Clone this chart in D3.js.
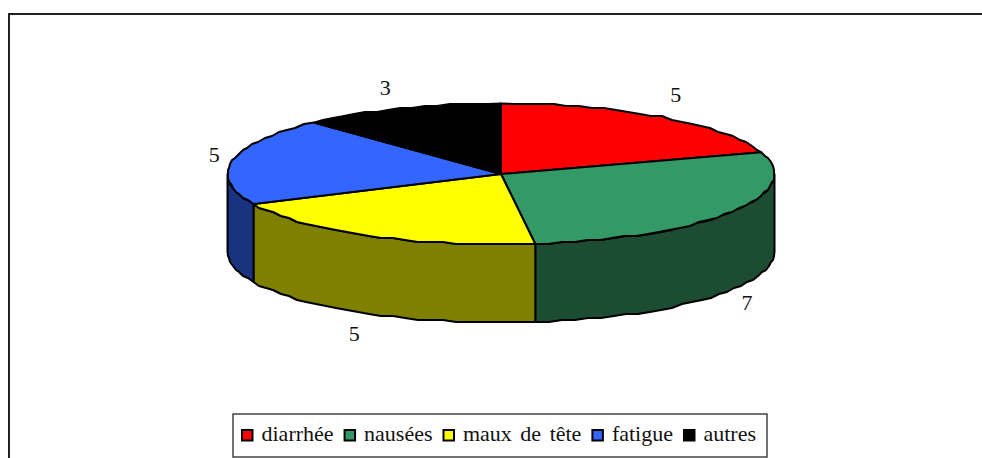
<!DOCTYPE html>
<html>
<head>
<meta charset="utf-8">
<script src="https://cdnjs.cloudflare.com/ajax/libs/d3/7.8.5/d3.min.js"></script>
<style>
  html, body { margin: 0; padding: 0; background: #fff; }
  svg { display: block; }
  text { font-family: "Liberation Serif", serif; fill: #111; }
</style>
</head>
<body>
<svg id="chart" width="982" height="458"></svg>
<script>
// values
const categories = ["diarrhée", "nausées", "maux de tête", "fatigue", "autres"];
const values = [5, 7, 5, 5, 3];
const topColors = ["#ff0000", "#339966", "#ffff00", "#3366ff", "#000000"];
const sideColors = ["#800000", "#1c4d33", "#808000", "#1a3380", "#000000"];

const width = 982, height = 458;
const cx = 501, cy = 174, rx = 273.5, ry = 70.5, depth = 78;
// offset of each value label from the pie rim
const labelOffsets = [[14, -23], [15, 13], [-15, 20], [-18, -6], [-15, -21]];

const svg = d3.select("#chart");

// frame: only the top and left edges show in the picture
svg.append("path")
    .attr("d", `M9,${height} V14 H${width}`)
    .attr("fill", "none")
    .attr("stroke", "#222")
    .attr("stroke-width", 2);

const xScale = d3.scaleLinear().domain([-1, 1]).range([cx - rx, cx + rx]);
const yScale = d3.scaleLinear().domain([-1, 1]).range([cy - ry, cy + ry]);

// the original rim is stepped, so points are snapped to a coarse grid
const snap = (v, g) => Math.round(v / g) * g;
const rimX = a => xScale(Math.sin(a));
const rimY = a => yScale(-Math.cos(a));

function rimPoints(a0, a1, dy) {
    const n = Math.max(1, Math.ceil((a1 - a0) / 0.05));
    return d3.range(n + 1).map(i => {
        const a = a0 + (a1 - a0) * i / n;
        const ends = i === 0 || i === n;
        const x = ends ? rimX(a) : cx + snap(rimX(a) - cx, 1);
        const y = ends ? rimY(a) : cy + snap(rimY(a) - cy, 2);
        return [x, y + dy];
    });
}

const line = d3.line();
const slices = d3.pie().sort(null).value(d => d)(values);

// outer wall, only the part of the rim that faces the viewer
const wallFrom = Math.PI / 2, wallTo = 3 * Math.PI / 2;
svg.append("g").selectAll("path")
    .data(slices.filter(d => d.endAngle > wallFrom && d.startAngle < wallTo))
    .join("path")
    .attr("d", d => {
        const a0 = Math.max(d.startAngle, wallFrom), a1 = Math.min(d.endAngle, wallTo);
        return line(rimPoints(a0, a1, 0).concat(rimPoints(a0, a1, depth).reverse())) + "Z";
    })
    .attr("fill", d => sideColors[d.index])
    .attr("stroke", "#000")
    .attr("stroke-width", 2)
    .attr("stroke-linejoin", "round");

// top face
svg.append("g").selectAll("path")
    .data(slices)
    .join("path")
    .attr("d", d => line([[cx, cy]].concat(rimPoints(d.startAngle, d.endAngle, 0))) + "Z")
    .attr("fill", d => topColors[d.index])
    .attr("stroke", "#000")
    .attr("stroke-width", 2)
    .attr("stroke-linejoin", "round");

// value labels
svg.append("g").selectAll("text")
    .data(slices)
    .join("text")
    .attr("x", d => {
        const a = (d.startAngle + d.endAngle) / 2;
        return rimX(a) + labelOffsets[d.index][0];
    })
    .attr("y", d => {
        const a = (d.startAngle + d.endAngle) / 2;
        const front = Math.cos(a) < 0;
        return rimY(a) + (front ? depth : 0) + labelOffsets[d.index][1];
    })
    .attr("dy", "0.35em")
    .attr("text-anchor", "middle")
    .attr("font-size", 22)
    .text(d => d.value);

// legend
const legend = svg.append("g");
legend.append("rect")
    .attr("x", 233).attr("y", 414)
    .attr("width", 534).attr("height", 43)
    .attr("fill", "#fff")
    .attr("stroke", "#444")
    .attr("stroke-width", 1.5);

let legendX = 241;
categories.forEach((name, i) => {
    legend.append("rect")
        .attr("x", legendX + 1).attr("y", 430)
        .attr("width", 10.5).attr("height", 10.5)
        .attr("fill", topColors[i])
        .attr("stroke", "#000")
        .attr("stroke-width", 2);
    const t = legend.append("text")
        .attr("x", legendX + 20.5)
        .attr("y", 441)
        .attr("font-size", 22)
        .attr("word-spacing", 3)
        .text(name);
    legendX += 20.5 + t.node().getComputedTextLength() + 10;
});
</script>
</body>
</html>
